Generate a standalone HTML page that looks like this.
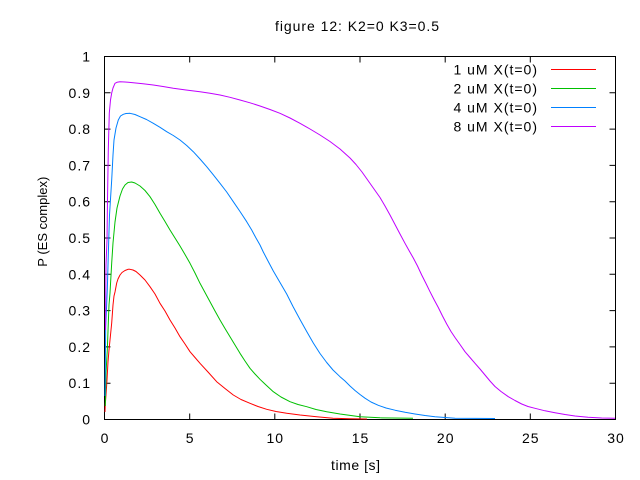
<!DOCTYPE html>
<html>
<head>
<meta charset="utf-8">
<style>
  html, body { margin: 0; padding: 0; background: #fff; }
  svg { display: block; }
  text { font-family: "Liberation Sans", "DejaVu Sans", sans-serif; font-size: 14px; fill: #000; letter-spacing: 1px; }
</style>
</head>
<body>
<svg width="640" height="480" viewBox="0 0 640 480" xmlns="http://www.w3.org/2000/svg">
  <rect x="0" y="0" width="640" height="480" fill="#fff"/>

  <!-- title -->
  <text x="357.5" y="31" text-anchor="middle" textLength="165" lengthAdjust="spacing">figure 12: K2=0 K3=0.5</text>

  <!-- axis ticks -->
  <g stroke="#000" stroke-width="1" fill="none">
    <path d="M104.5 383.2h6M104.5 346.9h6M104.5 310.6h6M104.5 274.3h6M104.5 238h6M104.5 201.7h6M104.5 165.4h6M104.5 129.1h6M104.5 92.8h6"/>
    <path d="M615.5 383.2h-6M615.5 346.9h-6M615.5 310.6h-6M615.5 274.3h-6M615.5 238h-6M615.5 201.7h-6M615.5 165.4h-6M615.5 129.1h-6M615.5 92.8h-6"/>
    <path d="M189.7 419.5v-6M274.8 419.5v-6M360 419.5v-6M445.2 419.5v-6M530.3 419.5v-6"/>
    <path d="M189.7 56.5v6M274.8 56.5v6M360 56.5v6M445.2 56.5v6M530.3 56.5v6"/>
    <rect x="104.5" y="56.5" width="511" height="363"/>
  </g>

  <!-- y tick labels -->
  <g text-anchor="end">
    <text x="91" y="424.5">0</text>
    <text x="91" y="388.2">0.1</text>
    <text x="91" y="351.9">0.2</text>
    <text x="91" y="315.6">0.3</text>
    <text x="91" y="279.3">0.4</text>
    <text x="91" y="243">0.5</text>
    <text x="91" y="206.7">0.6</text>
    <text x="91" y="170.4">0.7</text>
    <text x="91" y="134.1">0.8</text>
    <text x="91" y="97.8">0.9</text>
    <text x="91" y="61.5">1</text>
  </g>

  <!-- x tick labels -->
  <g text-anchor="middle">
    <text x="105" y="443">0</text>
    <text x="190.2" y="443">5</text>
    <text x="275.3" y="443">10</text>
    <text x="360.5" y="443">15</text>
    <text x="445.7" y="443">20</text>
    <text x="530.8" y="443">25</text>
    <text x="616" y="443">30</text>
  </g>

  <!-- axis labels -->
  <text x="356" y="470" text-anchor="middle" textLength="50" lengthAdjust="spacing">time [s]</text>
  <text transform="translate(47,221.7) rotate(-90)" x="0" y="0" text-anchor="middle" style="font-size:13px;letter-spacing:0" textLength="90" lengthAdjust="spacing">P (ES complex)</text>

  <!-- legend -->
  <g text-anchor="end">
    <text x="538" y="74.5">1 uM X(t=0)</text>
    <text x="538" y="93.5">2 uM X(t=0)</text>
    <text x="538" y="112.5">4 uM X(t=0)</text>
    <text x="538" y="131.5">8 uM X(t=0)</text>
  </g>
  <g stroke-width="1">
    <line x1="551" y1="69.5" x2="596" y2="69.5" stroke="#ff0000"/>
    <line x1="551" y1="88.5" x2="596" y2="88.5" stroke="#00c000"/>
    <line x1="551" y1="107.5" x2="596" y2="107.5" stroke="#0080ff"/>
    <line x1="551" y1="126.5" x2="596" y2="126.5" stroke="#c000ff"/>
  </g>

  <!-- series -->
  <g fill="none" stroke-width="1" stroke-linejoin="round">
    <polyline stroke="#ff0000" points="105,412 105.3,404 106,395 107,380 108,362 109,350 110,340 111.7,323 113,305 114,296 115,292 116.7,283 118,279 120,275 122,272.5 125,270.5 128,269.3 130,269.3 133,270 136,271.5 140,275 145,280 150,286.7 155,294 160,303.3 165,311 170,320 175,328 180,336.7 185,344 190,351.7 195,357.5 200,363.3 208,372 216.7,381.7 225,388.5 233.3,395 241,399.5 250,403.3 258,406.5 266.7,409.3 276,411.5 286.7,413.3 300,415 316.7,416.7 333,418.3 350,418.8 367,419"/>
    <polyline stroke="#00c000" points="105.3,406 106,373 107.3,350 108.3,323 109,305 110,293 111.7,263 113,243 115,222 117,208 120,196 122.5,189 125,185 128,182.5 131.7,182 135,183 140,186 145,190.5 150,196.7 155,204.5 160,213.3 165,221.5 170,230 175,238 180,246 185,254.5 190,263.3 195,273 200,283.3 205,292.5 210,301.7 215,311 220,320 225,328.5 230,336.7 235,345 240,353.3 245,361 250,368.3 255,374 260,379.3 266,385 273.3,391.7 281,397 290,401.7 298,404.5 306.7,406.7 316,409.5 326.7,411.7 340,414 360,416.7 380,417.8 413,418.3"/>
    <polyline stroke="#0080ff" points="105,396 105.7,327 107.3,290 108.3,255 109.5,215 111.7,180 113,155 114,140 116,128 118.3,120 120.5,116 123.3,114.3 126,113.5 130,113.3 135,114.5 140,116.7 146.5,119.5 153.3,123.3 160,127.3 166.7,131.7 173.3,135.5 180,140 186.7,145.5 193.3,151.7 200,159 206.7,166.7 213.3,174.8 220,183.3 226.7,192 233.3,201.7 240,211.5 246.7,221.7 251.7,230 256,238 260,245 263.3,252 268,261 273.3,271 280,282.5 286.7,294 293,306.5 300,319.5 306.7,331.5 313.3,343 320,353.5 326.7,362.5 333,370 340,376.7 345,381 350,386 355,390.5 360,394.5 365,398.2 371,402 378.3,405.3 386,408 395,410.2 405,412.3 415,414 425,415.5 435,416.7 445,417.5 455,418.3 495,418.5"/>
    <polyline stroke="#c000ff" points="105.5,330 106,265 107,240 107.5,200 108.3,150 109.3,113 110.5,100 111.7,93 113,88 115,83.3 117,82.3 120,81.7 125,82 133.3,82.7 143,83.8 153.3,85 163,86.5 173.3,88.3 186,90 200,91.7 210,93.3 220,95 230,97.3 240,100 250,102.8 260,106 270,109.5 280,113.3 290,118 300,123.3 310,129 320,135 330,141.5 340,149 350,158 356,164.5 362,172 368,180.5 374,189 380,197.5 385,206 390,215 395,224.5 400,234 405,243.3 409,250.5 413.3,258 417.5,266 421.7,275 426,283.5 430,291.7 434,299.5 438.3,307.5 442.5,316 446.7,324 451,331.5 455,337.5 460,344.5 465,351.7 470,357.5 475,363.3 480,369 485,375 490,381 495,386.5 501,391.5 508.3,396.7 515,400.5 521.7,404 528,406.5 535,408.3 545,410.8 555,412.7 565,414.5 575,416 588,417.2 601.7,418 615,418.3"/>
  </g>
</svg>
</body>
</html>
